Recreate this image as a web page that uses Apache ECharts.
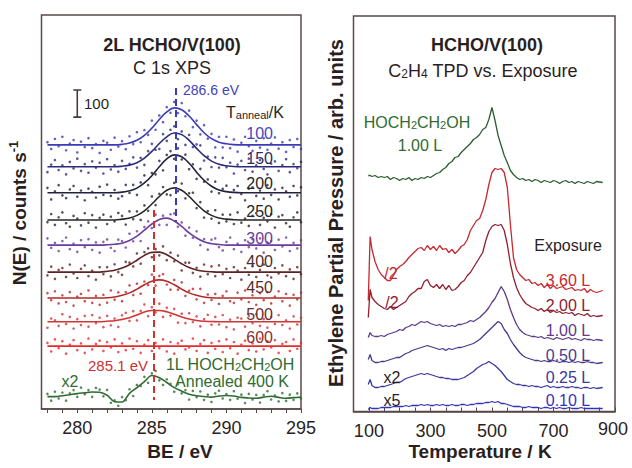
<!DOCTYPE html>
<html><head><meta charset="utf-8">
<script src="https://cdn.jsdelivr.net/npm/echarts@6/dist/echarts.min.js"></script>
<style>html,body{margin:0;padding:0;background:#fff}#c{width:632px;height:468px}</style>
</head><body><div id="c"></div><script>
// ---------- LEFT PANEL: C 1s XPS (counts, each spectrum above its own baseline) ----------
const fitBE = [278,278.5,279,279.5,280,280.5,281,281.5,282,282.5,283,283.5,284,284.5,285,285.5,286,286.5,287,287.5,288,288.5,289,289.5,290,290.5,291,291.5,292,292.5,293,293.5,294,294.5,295];
const dotBE = [278,278.25,278.5,278.75,279,279.25,279.5,279.75,280,280.25,280.5,280.75,281,281.25,281.5,281.75,282,282.25,282.5,282.75,283,283.25,283.5,283.75,284,284.25,284.5,284.75,285,285.25,285.5,285.75,286,286.25,286.5,286.75,287,287.25,287.5,287.75,288,288.25,288.5,288.75,289,289.25,289.5,289.75,290,290.25,290.5,290.75,291,291.25,291.5,291.75,292,292.25,292.5,292.75,293,293.25,293.5,293.75,294,294.25,294.5,294.75,295];
const annealLabels = ['100','150','200','250','300','400','450','500','600'];
const annealBaseline = [978,897,801,700,607,507,411,323,233];
const fit100 = [0,0,0,0,0,0,0,0,0,0,2,7,17,35,62,94,122,137,130,107,75,45,23,10,4,1,0,0,0,0,0,0,0,0,0];
const fit150 = [0,0,0,0,0,0,0,0,0,0,2,6,15,32,57,86,111,125,119,98,68,41,21,9,4,1,0,0,0,0,0,0,0,0,0];
const fit200 = [0,0,0,0,0,0,0,0,0,0,2,7,17,36,63,96,125,140,133,109,76,46,24,10,4,1,0,0,0,0,0,0,0,0,0];
const fit250 = [0,0,0,0,0,0,0,0,0,0,3,7,17,34,59,87,110,119,110,87,59,34,17,7,3,1,0,0,0,0,0,0,0,0,0];
const fit300 = [0,0,0,0,0,0,0,0,1,3,7,17,33,55,78,95,100,89,69,45,26,12,5,2,0,0,0,0,0,0,0,0,0,0,0];
const fit400 = [0,0,0,0,0,0,0,0,3,7,15,27,44,62,73,74,64,48,31,17,8,3,1,0,0,0,0,0,0,0,0,0,0,0,0];
const fit450 = [0,0,0,0,0,0,0,0,1,4,10,19,33,49,62,67,62,49,33,19,10,4,1,0,0,0,0,0,0,0,0,0,0,0,0];
const fit500 = [0,0,0,0,0,0,0,0,2,4,9,15,25,36,42,42,37,28,18,10,5,2,1,0,0,0,0,0,0,0,0,0,0,0,0];
const fit600 = [0,0,0,0,0,0,0,0,0,0,0,0,0,0,0,0,0,0,0,0,0,0,0,0,0,0,0,0,0,0,0,0,0,0,0];
const dots100 = [10,-15,22,-5,30,-20,5,18,-28,12,-8,25,-12,3,-30,15,8,-18,27,-6,14,-16,32,3,47,10,55,37,90,56,109,84,140,119,159,118,155,106,127,66,90,39,73,23,41,-9,30,-9,30,-12,20,-25,8,30,-5,-22,15,-10,25,-18,5,28,-14,10,-26,18,-8,22,-15];
const dots150 = [-20,8,25,-12,5,-28,18,-6,30,-15,10,-22,20,-3,15,-25,28,-10,6,-18,22,-8,11,35,-3,33,7,58,85,63,66,121,96,137,150,102,131,81,118,73,83,79,23,38,-1,35,-3,33,-2,15,-25,8,22,-12,30,-18,5,25,-8,-28,12,20,-15,6,28,-20,10,-5,18];
const dots200 = [18,-25,5,28,-10,-20,12,25,-15,8,-28,15,3,-18,22,-8,30,-12,10,-22,-13,29,-1,29,-8,38,64,28,73,68,118,83,140,154,125,164,123,141,87,105,51,88,41,49,4,41,-2,14,26,-18,10,25,-5,-28,15,20,-12,8,-22,28,-8,12,-25,18,5,-15,25,-10,20];
const dots250 = [-8,22,-18,10,28,-12,-25,15,5,-20,25,-10,18,-28,8,20,-15,12,-5,26,15,-17,32,3,32,0,54,34,87,55,97,122,95,92,137,107,135,80,99,101,44,66,9,33,5,36,-11,20,-5,20,-15,28,-10,5,-22,15,25,-18,8,-5,22,-28,12,18,-12,-25,10,28,-8];
const dots300 = [25,-10,8,-22,15,28,-15,5,-25,18,-8,22,-18,10,-28,12,21,-10,-22,20,15,-9,42,14,51,15,67,88,63,113,75,109,75,114,117,68,84,35,65,27,51,0,22,-17,20,25,-8,-20,12,28,-15,5,-25,18,-8,22,-12,25,-28,10,15,-18,20,-5,28,-22,8,-12,18];
const dots400 = [-12,20,-25,8,15,-18,28,-5,-22,12,25,-15,5,-28,18,-8,18,-16,29,0,-10,38,35,21,69,31,74,88,55,85,62,95,44,72,40,61,6,35,35,-3,16,-17,28,-8,21,-15,25,-8,12,-22,18,5,-28,15,-10,22,-18,8,28,-12,-20,15,-5,25,-15,10,-25,18,-8];
const dots450 = [18,-8,25,-20,10,-15,22,-28,5,15,-12,28,-18,8,-25,12,-17,28,-6,21,-12,22,47,11,53,16,61,48,87,46,82,88,50,31,67,31,58,8,27,34,-5,34,-18,13,-7,15,-22,8,25,-12,-18,20,-5,28,-15,10,-25,18,-8,22,-20,5,25,-12,15,-28,12,-5,20];
const dots500 = [-22,12,5,-15,28,-8,18,-25,10,-12,22,-18,25,-5,15,-20,22,-13,12,-19,24,33,3,39,5,40,64,21,54,35,67,18,52,23,48,-3,30,-5,32,-1,20,-17,10,26,-11,18,-10,25,-20,8,-28,15,12,-18,22,-5,28,-15,10,-22,18,-8,25,-12,5,-25,20,-10,15];
const dots600 = [12,-20,25,-8,18,-28,5,22,-15,10,-25,28,-12,8,20,-18,15,-5,25,-22,10,-15,28,-10,18,-25,5,22,-18,12,-8,25,-20,15,-28,10,20,-12,-5,28,-18,8,22,-25,12,-10,18,-22,25,-8,15,-28,5,20,-15,10,-20,28,-12,18,-5,22,-25,8,15,-18,25,-10,12];
const glycolBaseline = 46;
const fitGlycol = [0,0,3,7,11,14,17,16,5,-19,-20,12,33,55,78,70,52,33,20,9,3,0,-2,2,4,2,-3,-5,-6,-2,1,-3,-6,-4,-2];
const dotsGlycol = [10,-15,18,-7,15,-15,12,24,-1,33,9,24,-1,32,26,1,25,-23,-14,-34,-2,-13,27,2,43,39,73,51,86,95,60,43,64,47,18,46,12,24,-11,21,-2,19,-12,7,-20,12,22,-7,9,-12,20,-8,7,-24,10,-11,6,-22,6,20,-11,4,-18,13,-16,7,-12,12,-7];
const peakBE = [286.6, 285.1];
const peakLineCounts = [[1189, 693], [737, 33]];
const scaleBarBE = [279.73, 280.27, 280, 280, 279.73, 280.27];
const scaleBarCounts = [1181, 1181, 1181, 1081, 1081, 1081];

// ---------- RIGHT PANEL: C2H4 TPD (arb. units, offset traces) ----------
const tempK = [98,104,110,120,130,140,150,160,170,180,190,200,210,220,230,240,250,260,270,280,290,300,310,320,330,340,350,360,370,380,390,400,410,420,430,440,450,460,470,480,490,500,510,520,530,540,550,560,570,580,590,600,610,620,630,640,650,660,670,680,690,700,710,720,730,740,750,760,770,780,790,800,810,820,830,840,860];
const tempTicks = [100,300,500,700];
const lastTempTick = '900';
const exposureLabels = ['3.60 L','2.00 L','1.00 L','0.50 L','0.25 L','0.10 L'];
const tpdGlycol = [236,236,235,236,234,235,234,235,232,234,233,231,233,232,234,231,233,232,234,233,235,234,236,238,239,242,244,248,250,254,255,259,262,265,268,272,274,277,282,284,292,304,291,276,266,256,249,241,237,234,232,233,231,232,230,232,231,229,231,230,229,231,230,228,230,231,229,230,228,230,229,228,230,229,228,230,229];
const tpd360 = [111,175,162,150,142,137,134,131,131,136,142,145,147,150,154,157,160,163,164,161,166,162,165,161,166,162,163,159,162,158,161,165,167,172,181,186,191,193,201,212,227,239,243,242,243,239,224,187,154,142,137,134,131,132,128,129,126,128,124,127,123,126,123,124,125,122,123,124,121,122,121,123,119,122,120,119,121];
const tpd200 = [94,122,114,110,107,105,103,102,105,102,104,106,108,110,115,118,120,123,123,130,132,126,124,127,123,127,122,126,121,122,125,129,131,136,139,144,149,154,159,171,180,185,187,186,187,181,167,148,134,124,117,112,108,106,104,103,101,103,100,102,99,101,99,100,98,99,98,99,96,98,97,96,98,95,96,95,96];
const tpd100 = [74,79,76,75,75,76,75,77,78,79,80,82,81,84,85,87,86,88,90,89,90,88,87,86,87,85,86,85,86,85,87,87,88,89,91,90,92,94,97,100,104,109,113,119,125,120,112,102,94,87,82,79,77,76,75,75,74,75,73,74,73,72,74,73,72,73,74,72,73,72,71,73,72,72,71,72,71];
const tpd050 = [52,57,51,49,49,50,50,51,52,53,54,54,56,58,59,61,62,63,64,65,66,65,64,63,62,63,61,63,62,63,64,64,65,66,67,68,70,72,75,78,81,84,87,90,88,82,78,72,67,63,59,56,54,53,52,51,51,50,51,50,50,51,50,49,50,50,49,50,49,50,49,49,50,49,49,48,49];
const tpd025 = [27,32,26,24,24,25,25,26,27,28,29,29,31,33,34,35,36,37,38,37,38,37,36,35,34,34,33,33,32,32,32,33,34,36,38,40,43,45,47,48,50,48,46,43,40,36,32,30,28,27,27,26,26,25,26,25,25,24,25,26,24,25,24,24,25,24,24,25,24,24,23,24,24,23,24,23,24];
const tpd010 = [2,4,3,3,3,4,4,4,4,5,5,5,5,6,5,6,6,6,7,6,7,6,6,7,6,7,6,6,7,6,6,7,7,6,7,7,8,8,8,9,9,10,9,10,8,8,7,6,5,5,5,4,4,5,4,4,4,3,4,4,3,4,3,4,3,3,4,3,3,3,4,3,3,3,3,3,3];

// ---------- build ----------
const FONT = 'Liberation Sans, Arial, Helvetica, sans-serif';
const fits = [fit100,fit150,fit200,fit250,fit300,fit400,fit450,fit500,fit600];
const dots = [dots100,dots150,dots200,dots250,dots300,dots400,dots450,dots500,dots600];
const xpsColors = ['#3b3bb5','#2b2b7a','#22223c','#262626','#6b3c9e','#5e2222','#b42a2a','#d13535','#e62b2b'];
const xpsLabelColors = ['#4646bc','#2b2b66','#262626','#262626','#6a3c98','#4a2c2c','#5a2b2b','#6a2d2d','#8a2e2e'];
const green = '#2f6b32';
const tpdSeries = [tpd360,tpd200,tpd100,tpd050,tpd025,tpd010];
const tpdColors = ['#c8282f','#8e2030','#5c3a8c','#4a3a8c','#3a3aa0','#3434b8'];

function pairs(xs, ys, base){ const n=Math.min(xs.length, ys.length); const out=[]; for(let i=0;i<n;i++) out.push([xs[i], base + ys[i]]); return out; }

const series = [];
for (let s=0; s<fits.length; s++){
  series.push({type:'line', xAxisIndex:0, yAxisIndex:0, data:pairs(fitBE, fits[s], annealBaseline[s]), showSymbol:false, smooth:0.4, lineStyle:{color:xpsColors[s], width:1.6}, silent:true, z:3});
  series.push({type:'scatter', xAxisIndex:0, yAxisIndex:0, data:pairs(dotBE, dots[s], annealBaseline[s]), symbol:'circle', symbolSize:2.6, itemStyle:{color:xpsColors[s]}, silent:true, z:2});
}
series.push({type:'line', xAxisIndex:0, yAxisIndex:0, data:pairs(fitBE, fitGlycol, glycolBaseline), showSymbol:false, smooth:0.35, lineStyle:{color:green, width:1.6}, silent:true, z:3,
  markLine:{symbol:'none', silent:true, label:{show:false}, data:[
    [{coord:[peakBE[0], peakLineCounts[0][0]]},{coord:[peakBE[0], peakLineCounts[0][1]], lineStyle:{color:'#3a3ab8', type:[7,4], width:2}}],
    [{coord:[peakBE[1], peakLineCounts[1][0]]},{coord:[peakBE[1], peakLineCounts[1][1]], lineStyle:{color:'#d43030', type:[7,4], width:2}}]
  ], lineStyle:{type:[7,4], width:2}}});
series.push({type:'scatter', xAxisIndex:0, yAxisIndex:0, data:pairs(dotBE, dotsGlycol, glycolBaseline), symbol:'circle', symbolSize:2.6, itemStyle:{color:green}, silent:true, z:2});
series.push({type:'line', xAxisIndex:0, yAxisIndex:0, data:scaleBarBE.map((b,i)=>[b, scaleBarCounts[i]]), showSymbol:false, lineStyle:{color:'#4a3a3a', width:1.6}, silent:true});

series.push({type:'line', xAxisIndex:1, yAxisIndex:1, data:pairs(tempK, tpdGlycol, 0), showSymbol:false, lineStyle:{color:'#2c5e30', width:1.3}, silent:true});
for (let s=0; s<tpdSeries.length; s++){
  series.push({type:'line', xAxisIndex:1, yAxisIndex:1, data:pairs(tempK, tpdSeries[s], 0), showSymbol:false, lineStyle:{color:tpdColors[s], width:1.3}, silent:true});
}

function txt(x, y, text, opt){
  opt = opt || {};
  return {type:'text', x:x, y:y, rotation:opt.rot||0, z:100, silent:true, style:Object.assign({text:text, fontFamily:FONT, fontSize:opt.size||16, fontWeight:opt.bold?'bold':'normal', fill:opt.color||'#2a1e1e', align:opt.align||'center', verticalAlign:'middle'}, opt.rich?{rich:opt.rich}:{})};
}
function richSub(size, color, bold){
  const ss = Math.round(size*0.68);
  return {a:{fontFamily:FONT, fontSize:size, fontWeight:bold?'bold':'normal', fill:color, lineHeight:size+3, verticalAlign:'bottom'},
          s:{fontFamily:FONT, fontSize:ss, fontWeight:bold?'bold':'normal', fill:color, lineHeight:ss, verticalAlign:'bottom'},
          u:{fontFamily:FONT, fontSize:ss, fontWeight:bold?'bold':'normal', fill:color, lineHeight:ss, verticalAlign:'top'}};
}

const labelY = [133,158,183,211,238,261,287,314,337];
const graphics = [
  txt(172, 45, '2L HCHO/V(100)', {bold:true, size:18}),
  txt(172, 68, 'C 1s XPS', {size:18}),
  txt(84, 103, '100', {size:15, align:'left'}),
  txt(183, 90, '286.6 eV', {size:14, align:'left', color:'#4040b8'}),
  txt(226, 111, '{a|T}{s|anneal}{a|/K}', {align:'left', rich:richSub(16,'#2a1e1e')}),
  txt(118, 365, '285.1 eV', {size:15, color:'#c83232'}),
  txt(230, 363, '{a|1L HOCH}{s|2}{a|CH}{s|2}{a|OH}', {rich:richSub(16, green)}),
  txt(232, 381, 'Annealed 400 K', {size:16, color:green}),
  txt(70, 381, 'x2', {size:16, color:green}),
  txt(18, 213, '{a|N(E) / counts s}{u|-1}', {rot:Math.PI/2, rich:richSub(19,'#2a1e1e',true)}),
  txt(180, 451, 'BE / eV', {bold:true, size:19}),
  txt(487, 45, 'HCHO/V(100)', {bold:true, size:18}),
  txt(483, 69, '{a|C}{s|2}{a|H}{s|4}{a| TPD vs. Exposure}', {rich:richSub(18,'#2a1e1e')}),
  txt(417, 121, '{a|HOCH}{s|2}{a|CH}{s|2}{a|OH}', {rich:richSub(16, green)}),
  txt(420, 145, '1.00 L', {size:16, color:green}),
  txt(568, 245, 'Exposure', {size:16}),
  txt(391, 273, '/2', {size:16, color:'#c8282f'}),
  txt(392, 302, '/2', {size:16, color:'#8e2030'}),
  txt(392, 377, 'x2', {size:16}),
  txt(392, 400, 'x5', {size:16}),
  txt(613, 429, lastTempTick, {size:18}),
  txt(336, 213, 'Ethylene Partial Pressure / arb. units', {rot:Math.PI/2, bold:true, size:20}),
  txt(480, 451, 'Temperature / K', {bold:true, size:19})
];
for (let s=0; s<annealLabels.length; s++) graphics.push(txt(273, labelY[s], annealLabels[s], {size:16, align:'right', color:xpsLabelColors[s]}));
const expY = [280,305,330,355,377,400];
for (let s=0; s<exposureLabels.length; s++) graphics.push(txt(568, expY[s], exposureLabels[s], {size:16, color:tpdColors[s]}));

const frame = '#5b4848';
const chart = echarts.init(document.getElementById('c'), null, {renderer:'svg'});
chart.setOption({
  backgroundColor:'#ffffff',
  animation:false,
  grid:[
    {left:41.5, top:15, width:259.5, height:394, show:true, borderColor:frame, borderWidth:1.5, backgroundColor:'transparent'},
    {left:353.5, top:16, width:261.5, height:395.5, show:true, borderColor:frame, borderWidth:1.5, backgroundColor:'transparent'}
  ],
  xAxis:[
    {type:'value', gridIndex:0, min:277.6, max:295, axisLine:{show:true, lineStyle:{color:frame, width:1.5}},
     axisTick:{show:true, inside:false, length:4, customValues:[278,279,280,281,282,283,284,285,286,287,288,289,290,291,292,293,294,295], lineStyle:{color:frame}},
     axisLabel:{customValues:[280,285,290,295], fontSize:18, fontFamily:FONT, color:'#2a1e1e', margin:10}, splitLine:{show:false}},
    {type:'value', gridIndex:1, min:50, max:900, axisLine:{show:true, lineStyle:{color:frame, width:1.5}},
     axisTick:{show:true, inside:true, length:4, customValues:[50,100,150,200,250,300,350,400,450,500,550,600,650,700,750,800,850,900], lineStyle:{color:frame}},
     axisLabel:{customValues:tempTicks, fontSize:18, fontFamily:FONT, color:'#2a1e1e', margin:10}, splitLine:{show:false}}
  ],
  yAxis:[
    {type:'value', gridIndex:0, min:0, max:1459, show:false},
    {type:'value', gridIndex:1, min:0, max:395.5, show:false}
  ],
  series:series,
  graphic:graphics
});
</script></body></html>
